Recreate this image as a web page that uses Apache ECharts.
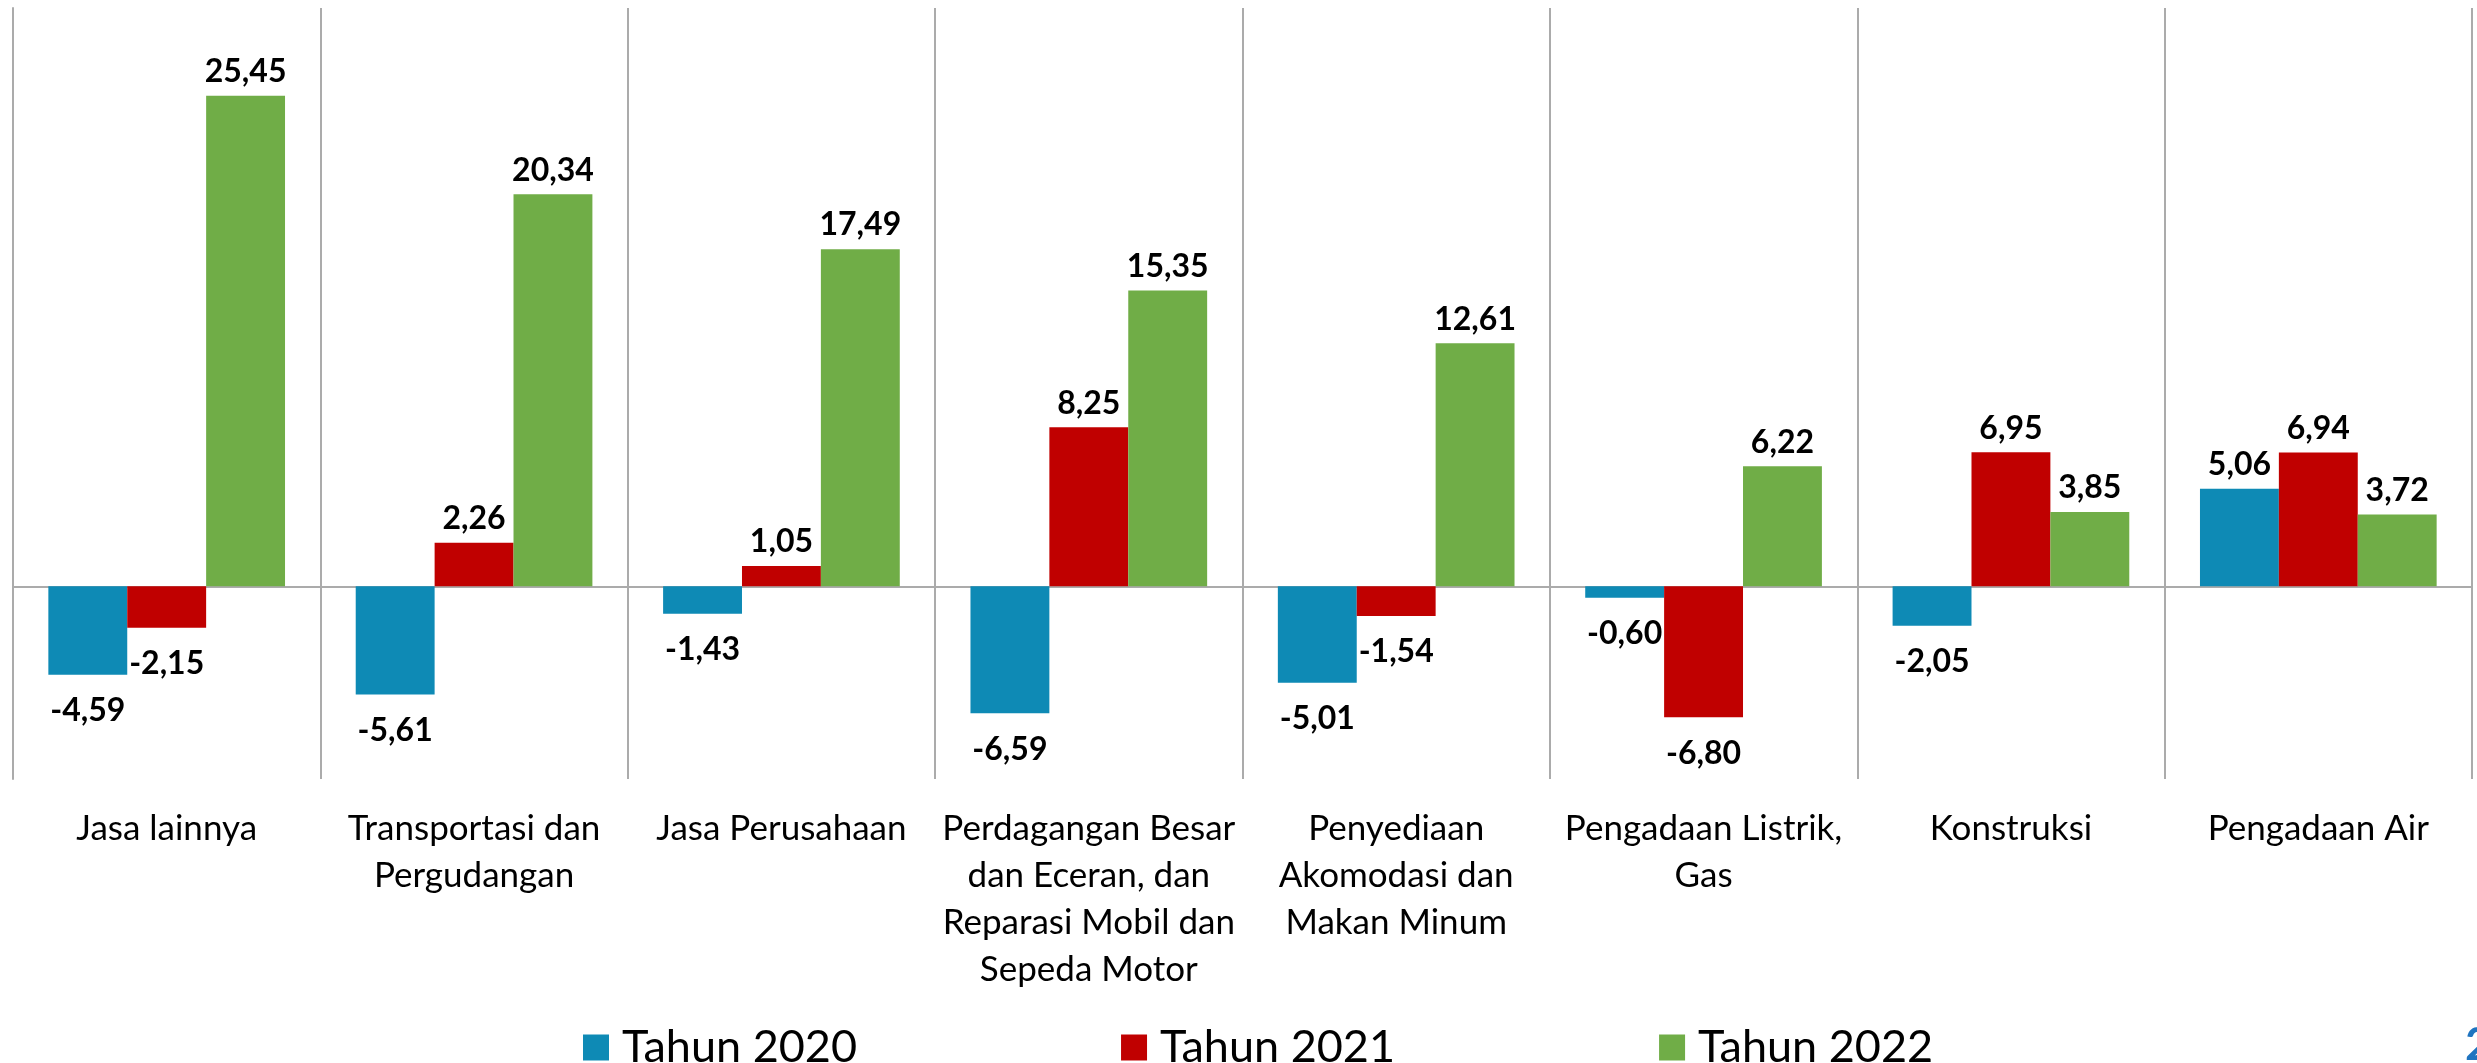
<!DOCTYPE html>
<html>
<head>
<meta charset="utf-8">
<script src="https://cdn.jsdelivr.net/npm/echarts@6/dist/echarts.min.js"></script>
<style>
  html, body { margin: 0; padding: 0; background: #fff; }
  #chart { width: 2477px; height: 1063px; }
</style>
</head>
<body>
<div id="chart"></div>
<script>
// kategori lapangan usaha
var categories = [
  "Jasa lainnya",
  "Transportasi dan\nPergudangan",
  "Jasa Perusahaan",
  "Perdagangan Besar\ndan Eceran, dan\nReparasi Mobil dan\nSepeda Motor",
  "Penyediaan\nAkomodasi dan\nMakan Minum",
  "Pengadaan Listrik,\nGas",
  "Konstruksi",
  "Pengadaan Air"
];
var seriesNames = ["Tahun 2020", "Tahun 2021", "Tahun 2022"];
var tahun2020 = [-4.59, -5.61, -1.43, -6.59, -5.01, -0.60, -2.05, 5.06];
var tahun2021 = [-2.15, 2.26, 1.05, 8.25, -1.54, -6.80, 6.95, 6.94];
var tahun2022 = [25.45, 20.34, 17.49, 15.35, 12.61, 6.22, 3.85, 3.72];

var colorList = ["#0E8AB5", "#C00000", "#70AD47"];
var gridColor = "#ABABAB";
var font = "Lato";

// label di luar ujung batang: atas untuk positif, bawah untuk negatif
function toData(values) {
  return values.map(function (v) {
    return {
      value: v,
      label: v < 0 ? { position: "bottom", distance: 20 } : { position: "top", distance: 8 }
    };
  });
}

function makeSeries(name, values, color) {
  return {
    name: name,
    type: "bar",
    xAxisIndex: 0,
    barGap: 0,
    barCategoryGap: "23%",
    itemStyle: { color: color },
    label: {
      show: true,
      color: "#000",
      fontFamily: font,
      fontWeight: "bold",
      fontSize: 32,
      formatter: function (p) {
        return p.value.toFixed(2).replace(".", ",");
      }
    },
    data: toData(values)
  };
}

var chart = echarts.init(document.getElementById("chart"));
var option = {
  animation: false,
  grid: { left: 13, right: 5, top: 8, bottom: 284 },
  legend: {
    data: seriesNames,
    left: 578,
    top: 1020,
    icon: "rect",
    itemWidth: 26,
    itemHeight: 26,
    itemGap: 264,
    textStyle: { fontFamily: font, fontSize: 45, color: "#000", padding: [0, 0, 0, 8] }
  },
  xAxis: [
    {
      type: "category",
      data: categories,
      position: "bottom",
      axisLine: { show: false, onZero: false },
      axisTick: { show: false },
      splitLine: { show: true, lineStyle: { color: gridColor, width: 2 } },
      axisLabel: {
        interval: 0,
        margin: 26,
        color: "#000",
        fontFamily: font,
        fontSize: 35,
        lineHeight: 47
      }
    },
    {
      // garis nol
      type: "category",
      data: categories,
      position: "top",
      axisLine: { show: true, onZero: true, lineStyle: { color: gridColor, width: 2 } },
      axisTick: { show: false },
      axisLabel: { show: false },
      splitLine: { show: false }
    }
  ],
  yAxis: {
    type: "value",
    min: -10,
    max: 30,
    interval: 10,
    axisLine: { show: true, lineStyle: { color: gridColor, width: 2 } },
    axisTick: { show: false },
    axisLabel: { show: false },
    splitLine: { show: false }
  },
  series: [
    makeSeries(seriesNames[0], tahun2020, colorList[0]),
    makeSeries(seriesNames[1], tahun2021, colorList[1]),
    makeSeries(seriesNames[2], tahun2022, colorList[2])
  ],
  graphic: [
    {
      type: "text",
      left: 2465,
      top: 1022,
      style: { text: "2", fill: "#1F74C0", font: "bold 46px Lato" }
    }
  ]
};
chart.setOption(option);
</script>
</body>
</html>
